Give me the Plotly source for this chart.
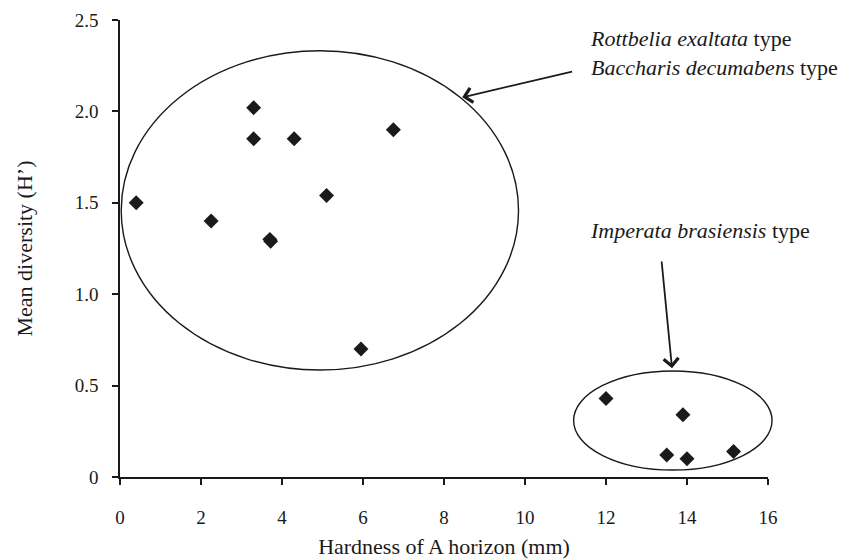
import plotly.graph_objects as go

# Data
hardness = [0.4, 2.25, 3.3, 3.3, 4.3, 3.7, 3.72, 5.1, 5.95, 6.75,
            12.0, 13.9, 13.5, 14.0, 15.15]
diversity = [1.50, 1.40, 2.02, 1.85, 1.85, 1.30, 1.29, 1.54, 0.70, 1.90,
             0.43, 0.34, 0.12, 0.10, 0.14]

x_ticks = [0, 2, 4, 6, 8, 10, 12, 14, 16]
y_ticks = [0, 0.5, 1.0, 1.5, 2.0, 2.5]
y_tick_labels = ["0", "0.5", "1.0", "1.5", "2.0", "2.5"]

X_MAX = 16
Y_MAX = 2.5

FONT = "Liberation Serif"
INK = "#1a1a1a"

fig = go.Figure()
fig.add_trace(go.Scatter(
    x=hardness, y=diversity, mode="markers",
    marker=dict(symbol="diamond", size=11.5, color=INK, line=dict(width=0)),
    showlegend=False, hoverinfo="x+y",
))

# Group ellipses
fig.add_shape(type="circle", xref="x", yref="y",
              x0=0.03, x1=9.84, y0=0.585, y1=2.332,
              line=dict(color=INK, width=1.4))
# second ellipse pokes past the axis end, so place it in paper units (unclipped)
fig.add_shape(type="circle", xref="paper", yref="paper",
              x0=11.2 / X_MAX, x1=16.1 / X_MAX, y0=0.038 / Y_MAX, y1=0.58 / Y_MAX,
              line=dict(color=INK, width=1.4))

# Arrows
fig.add_annotation(x=8.45, y=2.077, ax=11.2, ay=2.22, xref="x", yref="y",
                   axref="x", ayref="y", text="", showarrow=True,
                   arrowhead=4, arrowsize=1.6, arrowwidth=1.8, arrowcolor=INK,
                   standoff=0, startstandoff=0)
fig.add_annotation(x=13.63, y=0.595, ax=13.37, ay=1.187, xref="x", yref="y",
                   axref="x", ayref="y", text="", showarrow=True,
                   arrowhead=4, arrowsize=1.6, arrowwidth=1.8, arrowcolor=INK,
                   standoff=0, startstandoff=0)

# Labels
label_font = dict(family=FONT, size=22, color=INK)
fig.add_annotation(x=11.55, y=2.32, xref="x", yref="y", xanchor="left",
                   yanchor="middle", align="left", showarrow=False,
                   text="<i>Rottbelia exaltata</i> type<br><i>Baccharis decumabens</i> type",
                   font=label_font)
fig.add_annotation(x=11.55, y=1.35, xref="x", yref="y", xanchor="left",
                   yanchor="middle", showarrow=False,
                   text="<i>Imperata brasiensis</i> type", font=label_font)

fig.update_layout(
    width=850, height=559,
    margin=dict(l=120, r=82, t=20, b=82),
    paper_bgcolor="white", plot_bgcolor="white",
    font=dict(family=FONT, color=INK),
    xaxis=dict(
        range=[0, X_MAX], tickvals=x_ticks, ticktext=[str(v) for v in x_ticks],
        automargin=False,
        showgrid=False, zeroline=False, showline=True, linecolor=INK, linewidth=1.5,
        ticks="outside", ticklen=6, tickwidth=1.5, tickcolor=INK,
        ticklabelstandoff=16,
        tickfont=dict(family=FONT, size=19, color=INK),
        title=dict(text="Hardness of A horizon (mm)", standoff=16,
                   font=dict(family=FONT, size=22, color=INK)),
    ),
    yaxis=dict(
        range=[0, Y_MAX], tickvals=y_ticks, ticktext=y_tick_labels,
        automargin=False,
        showgrid=False, zeroline=False, showline=True, linecolor=INK, linewidth=1.5,
        ticks="outside", ticklen=6, tickwidth=1.5, tickcolor=INK,
        ticklabelstandoff=10,
        tickfont=dict(family=FONT, size=19, color=INK),
        title=dict(text="Mean diversity (H’)", standoff=36,
                   font=dict(family=FONT, size=22, color=INK)),
    ),
)

fig.write_html("out.html",
               config={"displayModeBar": False},
               post_script="document.body.style.margin='0';document.body.style.padding='0';")
